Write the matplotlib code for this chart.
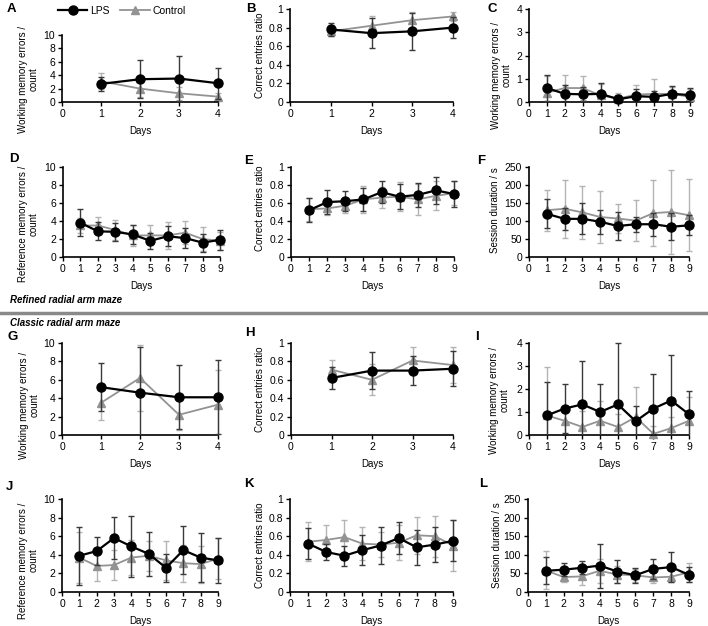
import numpy as np
import matplotlib
matplotlib.use("Agg")
import matplotlib.pyplot as plt
from matplotlib.lines import Line2D
from matplotlib.transforms import Bbox, TransformedBbox

plt.rcParams['font.family'] = ['Liberation Sans', 'DejaVu Sans']

W, H = 708, 626

days4 = [1, 2, 3, 4]
days9 = [1, 2, 3, 4, 5, 6, 7, 8, 9]

# Refined radial arm maze
a_lps = [2.7, 3.4, 3.5, 2.8]
a_lps_err = [1.0, 2.8, 3.4, 2.3]
a_ctl = [3.1, 2.0, 1.3, 0.8]
a_ctl_err = [1.2, 1.3, 1.0, 0.6]

b_lps = [0.78, 0.74, 0.76, 0.80]
b_lps_err = [0.07, 0.16, 0.20, 0.11]
b_ctl = [0.76, 0.82, 0.88, 0.92]
b_ctl_err = [0.05, 0.11, 0.09, 0.05]

c_lps = [0.6, 0.35, 0.33, 0.35, 0.12, 0.25, 0.22, 0.35, 0.3]
c_lps_err = [0.55, 0.4, 0.3, 0.45, 0.2, 0.3, 0.25, 0.35, 0.3]
c_ctl = [0.4, 0.6, 0.6, 0.28, 0.15, 0.32, 0.35, 0.35, 0.22]
c_ctl_err = [0.7, 0.55, 0.5, 0.5, 0.25, 0.4, 0.65, 0.3, 0.35]

d_lps = [3.8, 2.85, 2.8, 2.5, 1.8, 2.3, 2.1, 1.6, 1.9]
d_lps_err = [1.5, 1.0, 1.0, 1.1, 0.9, 1.1, 1.1, 1.0, 1.1]
d_ctl = [3.5, 3.5, 3.0, 2.4, 2.4, 2.4, 2.7, 2.0, 1.8]
d_ctl_err = [0.8, 0.9, 1.1, 1.2, 1.1, 1.5, 1.3, 1.3, 1.0]

e_lps = [0.52, 0.61, 0.62, 0.64, 0.72, 0.67, 0.69, 0.74, 0.70]
e_lps_err = [0.13, 0.13, 0.11, 0.13, 0.12, 0.14, 0.13, 0.15, 0.14]
e_ctl = [0.53, 0.54, 0.57, 0.64, 0.66, 0.67, 0.64, 0.68, 0.71]
e_ctl_err = [0.13, 0.07, 0.08, 0.15, 0.12, 0.16, 0.17, 0.16, 0.13]

f_lps = [120, 106, 106, 98, 86, 91, 91, 84, 88]
f_lps_err = [40, 30, 43, 33, 38, 21, 32, 38, 28]
f_ctl = [130, 134, 124, 111, 107, 101, 122, 125, 116]
f_ctl_err = [57, 80, 74, 73, 40, 57, 92, 116, 100]

# Classic radial arm maze
g_lps = [5.2, 4.6, 4.1, 4.1]
g_lps_err = [2.6, 5.0, 3.5, 4.0]
g_ctl = [3.5, 6.2, 2.2, 3.3]
g_ctl_err = [1.9, 3.6, 1.7, 3.8]

h_lps = [0.62, 0.70, 0.70, 0.72]
h_lps_err = [0.12, 0.20, 0.16, 0.19]
h_ctl = [0.71, 0.60, 0.81, 0.76]
h_ctl_err = [0.11, 0.17, 0.15, 0.20]

i_lps = [0.85, 1.15, 1.33, 1.0, 1.33, 0.6, 1.15, 1.5, 0.9]
i_lps_err = [1.45, 1.05, 1.9, 1.2, 2.67, 0.65, 1.5, 2.0, 1.0]
i_ctl = [0.85, 0.62, 0.35, 0.62, 0.35, 0.78, 0.05, 0.3, 0.62]
i_ctl_err = [2.1, 0.6, 0.7, 0.85, 0.55, 1.3, 0.35, 0.5, 1.05]

j_lps = [3.9, 4.4, 5.8, 4.9, 4.1, 2.6, 4.5, 3.7, 3.4]
j_lps_err = [3.1, 1.5, 2.3, 3.3, 2.4, 1.5, 2.6, 2.6, 2.4]
j_ctl = [3.7, 2.8, 2.9, 3.7, 3.9, 3.4, 3.1, 3.0, 3.6]
j_ctl_err = [2.7, 1.6, 1.6, 1.9, 1.6, 2.1, 2.0, 2.0, 2.2]

k_lps = [0.52, 0.43, 0.39, 0.45, 0.50, 0.58, 0.48, 0.51, 0.55]
k_lps_err = [0.17, 0.09, 0.11, 0.16, 0.20, 0.17, 0.19, 0.19, 0.22]
k_ctl = [0.54, 0.56, 0.59, 0.52, 0.51, 0.53, 0.61, 0.60, 0.50]
k_ctl_err = [0.21, 0.16, 0.18, 0.18, 0.13, 0.19, 0.20, 0.22, 0.27]

l_lps = [57, 60, 65, 71, 55, 45, 62, 67, 46]
l_lps_err = [36, 17, 17, 59, 32, 20, 26, 40, 20]
l_ctl = [58, 40, 42, 57, 47, 45, 39, 41, 53]
l_ctl_err = [51, 14, 24, 32, 22, 17, 15, 15, 26]

wm_label = "Working memory errors /\ncount"
ce_label = "Correct entries ratio"
rm_label = "Reference memory errors /\ncount"
sd_label = "Session duration / s"

ratio_ticks = [0, 0.2, 0.4, 0.6, 0.8, 1]
ratio_ticklabels = ["0", "0.2", "0.4", "0.6", "0.8", "1"]

LPS_STYLE = dict(color="black", marker="o", markersize=6.5, lw=1.6)
CTL_STYLE = dict(color="#939393", marker="^", markersize=5.5, lw=1.3)

# letter, pixel box (l, t, r, b), letter pos, days, data, ylabel, ymax, ystep,
# label gap (px, right edge of label to axis), label centre (axes fraction)
panels = [
    ("A", (62, 35, 218, 102), (7, 9), days4, a_lps, a_lps_err, a_ctl, a_ctl_err, wm_label, 10, 2, 23, 0.34),
    ("B", (290, 9, 453, 102), (246, 9), days4, b_lps, b_lps_err, b_ctl, b_ctl_err, ce_label, 1, 0.2, 25, 0.5),
    ("C", (529, 9, 690, 102), (487, 9), days9, c_lps, c_lps_err, c_ctl, c_ctl_err, wm_label, 4, 1, 17, 0.29),
    ("D", (63, 167, 220, 257), (9, 159), days9, d_lps, d_lps_err, d_ctl, d_ctl_err, rm_label, 10, 2, 24, 0.37),
    ("E", (291, 167, 454, 257), (244, 161), days9, e_lps, e_lps_err, e_ctl, e_ctl_err, ce_label, 1, 0.2, 26, 0.54),
    ("F", (529, 167, 689, 257), (477, 161), days9, f_lps, f_lps_err, f_ctl, f_ctl_err, sd_label, 250, 50, 29, 0.52),
    ("G", (62, 343, 218, 435), (7, 337), days4, g_lps, g_lps_err, g_ctl, g_ctl_err, wm_label, 10, 2, 22, 0.32),
    ("H", (291, 343, 453, 435), (245, 333), days4, h_lps, h_lps_err, h_ctl, h_ctl_err, ce_label, 1, 0.2, 26, 0.5),
    ("I", (529, 343, 689, 435), (475, 337), days9, i_lps, i_lps_err, i_ctl, i_ctl_err, wm_label, 4, 1, 19, 0.38),
    ("J", (62, 499, 218, 592), (6, 487), days9, j_lps, j_lps_err, j_ctl, j_ctl_err, rm_label, 10, 2, 23, 0.34),
    ("K", (290, 499, 453, 592), (244, 484), days9, k_lps, k_lps_err, k_ctl, k_ctl_err, ce_label, 1, 0.2, 25, 0.5),
    ("L", (528, 499, 689, 592), (479, 484), days9, l_lps, l_lps_err, l_ctl, l_ctl_err, sd_label, 250, 50, 26, 0.5),
]

fig = plt.figure(figsize=(W / 100, H / 100), dpi=100)


def px_box(l, t, r, b):
    return [l / W, 1 - b / H, (r - l) / W, (b - t) / H]


def draw(ax, days, vals, errs, ecolor, style, zorder):
    cont = ax.errorbar(days, vals, yerr=errs, elinewidth=1, capsize=2.5,
                       ecolor=ecolor, zorder=zorder, **style)
    cont[0].set_clip_on(False)
    # error bars: cut at the x axis, but let caps at the right edge show
    clip = TransformedBbox(Bbox([[-0.1, 0], [1.1, 1.03]]), ax.transAxes)
    for art in list(cont[1]) + list(cont[2]):
        art.set_clip_box(clip)
    return cont


for (letter, box, lpos, days, lps, lps_err, ctl, ctl_err, ylab, ymax, ystep,
     gap, ycen) in panels:
    ax = fig.add_axes(px_box(*box))
    draw(ax, days, ctl, ctl_err, "#b4b4b4", CTL_STYLE, 2)
    draw(ax, days, lps, lps_err, "#3a3a3a", LPS_STYLE, 3)
    ax.set_xlim(0, max(days))
    ax.set_ylim(0, ymax)
    ax.set_xticks(range(0, max(days) + 1))
    if ymax == 1:
        ax.set_yticks(ratio_ticks)
        ax.set_yticklabels(ratio_ticklabels)
    else:
        ax.set_yticks(np.arange(0, ymax + ystep / 2, ystep))
    ax.spines["top"].set_visible(False)
    ax.spines["right"].set_visible(False)
    ax.spines["left"].set_linewidth(1.2)
    ax.spines["bottom"].set_linewidth(1.2)
    ax.tick_params(labelsize=7.5, length=3, width=1, pad=2)
    ax.set_xlabel("Days", fontsize=7, labelpad=5)
    ax.set_ylabel(ylab, fontsize=7, linespacing=1.1)
    ax.yaxis.set_label_coords(-gap / (box[2] - box[0]), ycen)
    fig.text(lpos[0] / W, 1 - lpos[1] / H, letter, fontsize=9.5, fontweight="bold",
             va="center", ha="left")

handles = [Line2D([], [], **LPS_STYLE), Line2D([], [], **CTL_STYLE)]
fig.legend(handles, ["LPS", "Control"], loc="center", ncol=2,
           bbox_to_anchor=(122 / W, 1 - 11 / H), frameon=False,
           fontsize=7.5, handlelength=2.8, columnspacing=1.0,
           handletextpad=0.3, borderpad=0)

# section divider
fig.text(10 / W, 1 - 300 / H, "Refined radial arm maze", fontsize=7,
         fontweight="bold", fontstyle="italic", va="center")
fig.add_artist(Line2D([0, 1], [1 - 313 / H, 1 - 313 / H], color="#8a8a8a",
                      lw=2.5, transform=fig.transFigure))
fig.text(10 / W, 1 - 323 / H, "Classic radial arm maze", fontsize=7,
         fontweight="bold", fontstyle="italic", va="center")

fig.savefig("out.png", dpi=100)
